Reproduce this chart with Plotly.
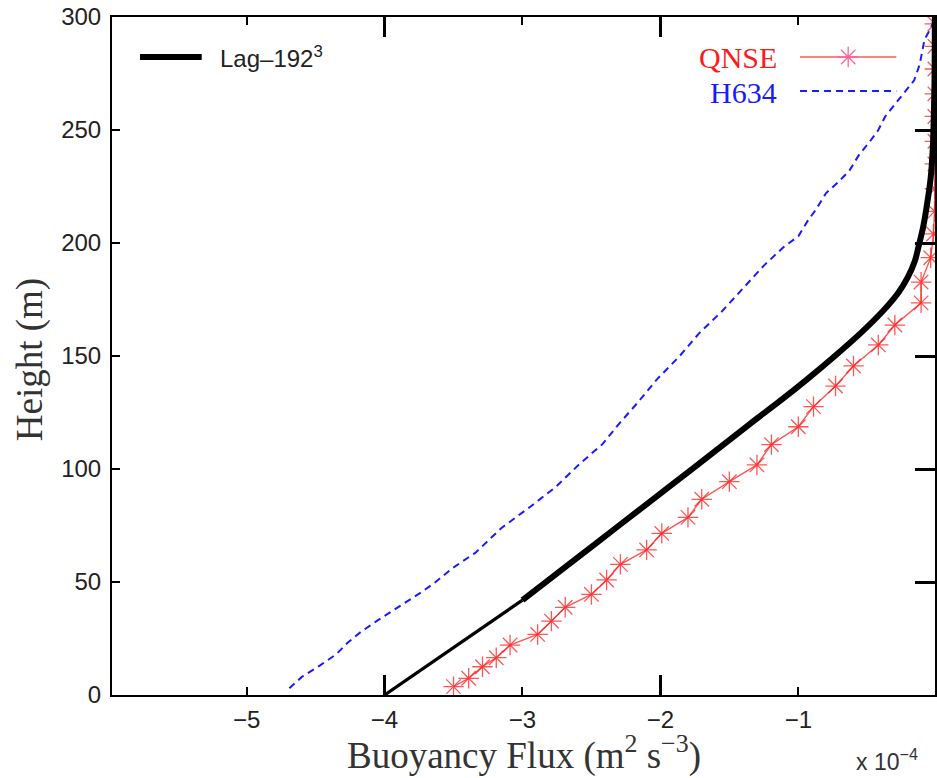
import plotly.graph_objects as go

# ---------------- data ----------------
# Lag-192^3 (black solid)
lag_height = [0, 11, 20, 30, 42, 58, 75, 92, 109, 120, 130, 140, 150, 160, 170, 178,
              185, 192, 198, 207, 219, 229, 241, 255, 270, 285, 300]
lag_flux = [-4.0, -3.74, -3.52, -3.29, -3.0, -2.66, -2.30, -1.94, -1.58, -1.35, -1.135,
            -0.93, -0.735, -0.55, -0.385, -0.275, -0.205, -0.155, -0.13, -0.095, -0.062,
            -0.04, -0.026, -0.018, -0.013, -0.011, -0.01]
lag_split = 5  # thinner segment for the lowest points

# QNSE (red, asterisks)
qnse_height = [3.7, 7.4, 12.5, 16.5, 22.1, 26.8, 32.7, 38.8, 44.5, 50.9, 57.8, 64.2,
               71.5, 78.6, 86.6, 94.4, 101.8, 110.8, 118.7, 127.6, 136.7, 145.6, 154.9,
               163.7, 173.5, 182.7, 193.5, 204, 214, 224, 235, 245, 256, 266, 277, 287, 297]
qnse_flux = [-3.50, -3.39, -3.29, -3.19, -3.09, -2.89, -2.79, -2.69, -2.50, -2.39, -2.29,
             -2.10, -1.99, -1.80, -1.70, -1.50, -1.30, -1.195, -1.00, -0.89, -0.73, -0.60,
             -0.42, -0.30, -0.11, -0.11, -0.04, -0.02, -0.012, -0.01, -0.01, -0.01, -0.01,
             -0.01, -0.01, -0.01, -0.01]

# H634 (blue dashed)
h634_height = [3, 8, 13, 18, 23, 28, 33, 38, 42, 46, 50, 56, 63, 74, 83, 92, 102, 111, 120,
               129, 140, 150, 160, 170, 180, 190, 198, 203, 210, 215, 222, 227, 232, 239,
               245, 250, 256, 265, 272, 279, 285, 290, 295, 300]
h634_flux = [-4.69, -4.60, -4.47, -4.35, -4.27, -4.17, -4.05, -3.92, -3.82, -3.72, -3.63,
             -3.51, -3.34, -3.15, -2.95, -2.76, -2.59, -2.42, -2.30, -2.17, -2.02, -1.86,
             -1.72, -1.55, -1.40, -1.25, -1.11, -1.0, -0.93, -0.87, -0.80, -0.71, -0.63,
             -0.56, -0.48, -0.42, -0.37, -0.25, -0.16, -0.12, -0.10, -0.085, -0.04, -0.01]

x_tickvals = [-5, -4, -3, -2, -1]
x_ticktext = ["\u22125", "\u22124", "\u22123", "\u22122", "\u22121"]
x_long_ticks = [-4, -2]
y_tickvals = [0, 50, 100, 150, 200, 250, 300]
y_long_ticks = [50, 100, 150, 200, 250]

X_RANGE = [-5.976, -0.009]
Y_RANGE = [0, 300]

SANS = "Liberation Sans, Arial, Helvetica, sans-serif"
SERIF = "Liberation Serif, Times New Roman, serif"

RED_LINE = "rgba(255,30,30,0.75)"
RED_MARK = "rgba(255,40,40,0.72)"
BLUE = "#1a1aff"

fig = go.Figure()

# H634
fig.add_trace(go.Scatter(x=h634_flux, y=h634_height, mode="lines",
                         line=dict(color=BLUE, width=2, dash="7px,5px"),
                         showlegend=False))
# QNSE
fig.add_trace(go.Scatter(x=qnse_flux, y=qnse_height, mode="lines+markers",
                         line=dict(color=RED_LINE, width=1.4),
                         marker=dict(symbol="asterisk-open", size=17,
                                     line=dict(color=RED_MARK, width=1.3)),
                         showlegend=False))
# Lag (lower thin part + upper thick part)
fig.add_trace(go.Scatter(x=lag_flux[:lag_split], y=lag_height[:lag_split], mode="lines",
                         line=dict(color="black", width=3.3), showlegend=False))
fig.add_trace(go.Scatter(x=lag_flux[lag_split - 1:], y=lag_height[lag_split - 1:], mode="lines",
                         line=dict(color="black", width=6, shape="spline", smoothing=0.8),
                         showlegend=False))

# empty trace to instantiate overlay axes for the long ticks
fig.add_trace(go.Scatter(x=[None], y=[None], xaxis="x2", yaxis="y2",
                         mode="lines", showlegend=False, hoverinfo="skip"))

# legend samples on an invisible unit-axes overlay
fig.add_trace(go.Scatter(x=[0.836, 0.953], y=[0.941, 0.941], xaxis="x3", yaxis="y3",
                         mode="lines", line=dict(color=RED_LINE, width=1.4),
                         showlegend=False, hoverinfo="skip"))
fig.add_trace(go.Scatter(x=[0.8945], y=[0.941], xaxis="x3", yaxis="y3", mode="markers",
                         marker=dict(symbol="asterisk-open", size=17,
                                     line=dict(color=RED_MARK, width=1.3)),
                         showlegend=False, hoverinfo="skip"))
fig.add_trace(go.Scatter(x=[0.836, 0.953], y=[0.891, 0.891], xaxis="x3", yaxis="y3",
                         mode="lines", line=dict(color=BLUE, width=2, dash="7px,5px"),
                         showlegend=False, hoverinfo="skip"))
fig.add_trace(go.Scatter(x=[0.034, 0.109], y=[0.941, 0.941], xaxis="x3", yaxis="y3",
                         mode="lines", line=dict(color="black", width=6),
                         showlegend=False, hoverinfo="skip"))

axis_common = dict(showgrid=False, zeroline=False, showline=True, linecolor="black",
                   linewidth=2, ticks="inside", tickcolor="black")

fig.update_layout(
    width=937, height=778,
    margin=dict(l=112, r=0, t=17, b=83),
    paper_bgcolor="white", plot_bgcolor="white",
    showlegend=False,
    xaxis=dict(range=X_RANGE, tickvals=x_tickvals, ticktext=x_ticktext,
               ticklen=8, tickwidth=1.5, mirror="ticks", ticklabelstandoff=2,
               tickfont=dict(family=SANS, size=24, color="#222"), **axis_common),
    yaxis=dict(range=Y_RANGE, tickvals=y_tickvals, ticklen=8, tickwidth=1.5,
               mirror="ticks", ticklabelstandoff=4,
               tickfont=dict(family=SANS, size=24, color="#222"),
               **axis_common),
    xaxis2=dict(overlaying="x", anchor="y2", range=X_RANGE, tickvals=x_long_ticks,
                ticklen=20, tickwidth=3, mirror="ticks", showticklabels=False,
                **axis_common),
    yaxis2=dict(overlaying="y", anchor="x2", side="right", range=Y_RANGE,
                tickvals=y_long_ticks, ticklen=20, tickwidth=3, showticklabels=False,
                **axis_common),
    xaxis3=dict(overlaying="x", anchor="y3", range=[0, 1], visible=False),
    yaxis3=dict(overlaying="y", anchor="x3", range=[0, 1], visible=False),
    annotations=[
        dict(text="Lag\u2013192<sup>3</sup>", x=0.1285, y=0.941, xref="paper", yref="paper",
             xanchor="left", yanchor="middle", showarrow=False,
             font=dict(family=SANS, size=24, color="#222")),
        dict(text="QNSE", x=0.811, y=0.941, xref="paper", yref="paper",
             xanchor="right", yanchor="middle", showarrow=False,
             font=dict(family=SERIF, size=30, color="#ff1a1a")),
        dict(text="H634", x=0.811, y=0.888, xref="paper", yref="paper",
             xanchor="right", yanchor="middle", showarrow=False,
             font=dict(family=SERIF, size=30, color=BLUE)),
        dict(text="Buoyancy Flux (m<sup>2</sup> s<sup>\u22123</sup>)", x=0.5006, y=-0.086,
             xref="paper", yref="paper", xanchor="center", yanchor="middle",
             showarrow=False, font=dict(family=SERIF, size=37, color="#333")),
        dict(text="Height (m)", x=-0.0994, y=0.494, xref="paper", yref="paper",
             xanchor="center", yanchor="middle", textangle=-90, showarrow=False,
             font=dict(family=SERIF, size=37, color="#333")),
        dict(text="x 10<sup>\u22124</sup>", x=0.902, y=-0.096, xref="paper", yref="paper",
             xanchor="left", yanchor="middle", showarrow=False,
             font=dict(family=SANS, size=23, color="#333")),
    ],
)

fig.write_html("out.html")
